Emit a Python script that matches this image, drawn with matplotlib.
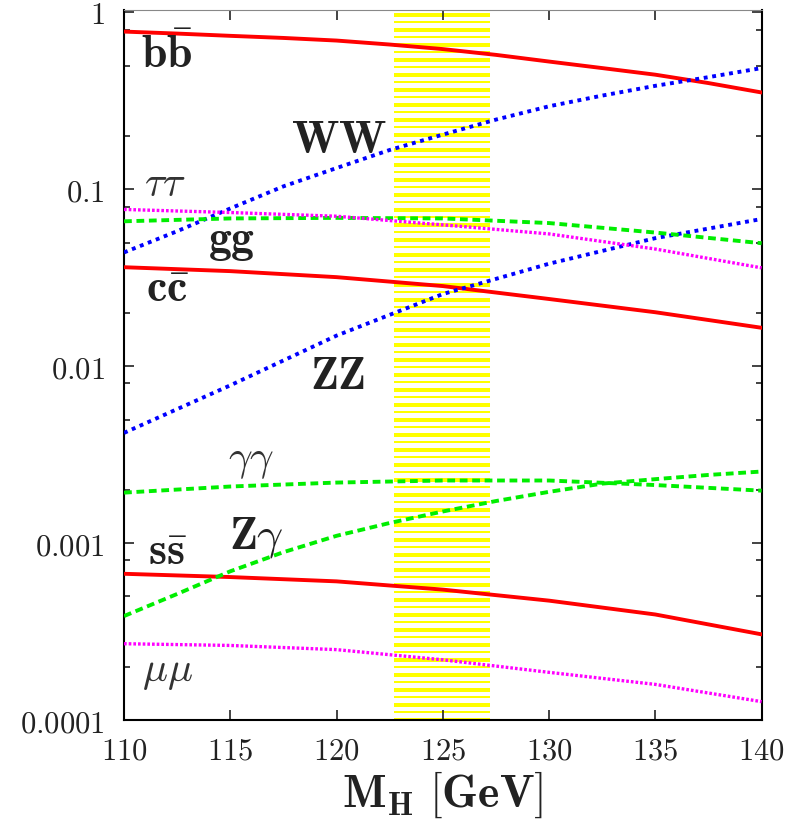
import numpy as np
import matplotlib
matplotlib.use('Agg')
import matplotlib.pyplot as plt
from matplotlib.patches import Rectangle
from matplotlib.ticker import LogLocator, FixedLocator, FixedFormatter, NullFormatter
import matplotlib.transforms as mtransforms

plt.rcParams['mathtext.fontset'] = 'cm'
plt.rcParams['font.family'] = 'serif'

# Higgs mass points [GeV]
mh = [110, 115, 120, 125, 130, 135, 140]
mh_fine = [110, 112.5, 115, 117.5, 120, 122.5, 125, 127.5, 130, 132.5, 135, 137.5, 140]

# branching ratios
br_bb = [0.78, 0.76, 0.738, 0.718, 0.694, 0.659, 0.621, 0.576, 0.528, 0.485, 0.445, 0.399, 0.353]
br_ww = [0.044, 0.058, 0.078, 0.104, 0.132, 0.167, 0.204, 0.248, 0.295, 0.339, 0.385, 0.431, 0.485]
br_zgam = [0.000387, 0.000516, 0.000693, 0.000889, 0.0011, 0.0013, 0.00151, 0.00173,
           0.00195, 0.00217, 0.0023, 0.00243, 0.00254]
br_tautau = [0.077, 0.074, 0.0705, 0.063, 0.056, 0.046, 0.036]
br_gg = [0.066, 0.0685, 0.069, 0.0685, 0.0645, 0.057, 0.0496]
br_cc = [0.0363, 0.0345, 0.0319, 0.0284, 0.024, 0.0202, 0.0165]
br_zz = [0.0042, 0.0078, 0.0149, 0.0256, 0.038, 0.053, 0.068]
br_gamgam = [0.00193, 0.00209, 0.0022, 0.00226, 0.00226, 0.00213, 0.00198]
br_ss = [0.000671, 0.000643, 0.000608, 0.000546, 0.000473, 0.000395, 0.000305]
br_mumu = [0.00027, 0.000264, 0.00025, 0.000219, 0.000186, 0.000159, 0.000127]

band = [122.72, 127.2]  # yellow mass band

fig = plt.figure(figsize=(7.95, 8.21), dpi=100)
ax = fig.add_axes([0.156, 0.123, 0.802, 0.865])

# striped yellow band (stripes in axes fraction)
trans = mtransforms.blended_transform_factory(ax.transData, ax.transAxes)
period = 15.0 / 710
y = 0.9958
while y > 0:
    thick = Rectangle((band[0], y - 4.0 / 710), band[1] - band[0], 4.0 / 710,
                      transform=trans, color='#ffff00', lw=0, zorder=1)
    ax.add_patch(thick)
    y2 = y - 8.0 / 710
    if y2 > 0:
        thin = Rectangle((band[0], y2 - 1.8 / 710), band[1] - band[0], 1.8 / 710,
                         transform=trans, color='#ffff00', lw=0, zorder=1)
        ax.add_patch(thin)
    y -= period

red = dict(color='#ff0000', lw=2.8, ls='-', zorder=3)
blue = dict(color='#0000ff', lw=2.8, ls=(0, (1, 1.2)), zorder=3)
green = dict(color='#00ee00', lw=2.8, ls=(0, (2, 1.2)), zorder=3)
mag = dict(color='#ff00ff', lw=2.4, ls=(0, (0.8, 0.6)), zorder=3)

ax.plot(mh_fine, br_bb, **red)
ax.plot(mh, br_cc, **red)
ax.plot(mh, br_ss, **red)
ax.plot(mh_fine, br_ww, **blue)
ax.plot(mh, br_zz, **blue)
ax.plot(mh, br_gg, **green)
ax.plot(mh, br_gamgam, **green)
ax.plot(mh_fine, br_zgam, **green)
ax.plot(mh, br_tautau, **mag)
ax.plot(mh, br_mumu, **mag)

ax.set_yscale('log')
ax.set_xlim(110, 140)
ax.set_ylim(1e-4, 1.035)

# labels
fs = 33
fi = 30
dark = '#222222'
ax.text(110.8, 0.487, r'$\mathbf{b\bar{b}}$', fontsize=fs, va='baseline', color=dark)
ax.text(117.85, 0.16, r'$\mathbf{WW}$', fontsize=fs, va='baseline', color=dark)
ax.text(110.95, 0.0914, r'$\tau\tau$', fontsize=fi, va='baseline', color='#333333')
ax.text(113.95, 0.0445, r'$\mathbf{gg}$', fontsize=fs, va='baseline', color=dark)
ax.text(111.04, 0.0231, r'$\mathbf{c\bar{c}}$', fontsize=fs, va='baseline', color=dark)
ax.text(118.73, 0.00747, r'$\mathbf{ZZ}$', fontsize=fs, va='baseline', color=dark)
ax.text(114.9, 0.0026, r'$\gamma\gamma$', fontsize=fi, va='baseline', color='#333333')
ax.text(114.95, 0.000937, r'$\mathbf{Z}\gamma$', fontsize=fs, va='baseline', color=dark)
ax.text(111.13, 0.000752, r'$\mathbf{s\bar{s}}$', fontsize=fs, va='baseline', color=dark)
ax.text(110.85, 0.000167, r'$\mu\mu$', fontsize=fi, va='baseline', color='#333333')

# ticks
xt = [110, 115, 120, 125, 130, 135, 140]
ax.xaxis.set_major_locator(FixedLocator(xt))
ax.xaxis.set_major_formatter(FixedFormatter([r'$%d$' % v for v in xt]))
yt = [1e-4, 1e-3, 1e-2, 1e-1, 1]
ax.yaxis.set_major_locator(FixedLocator(yt))
ax.yaxis.set_major_formatter(FixedFormatter([r'$0.0001$', r'$0.001$', r'$0.01$', r'$0.1$', r'$1$']))
ax.yaxis.set_minor_locator(LogLocator(base=10, subs=(2, 5, 8)))
ax.yaxis.set_minor_formatter(NullFormatter())

ax.tick_params(which='both', direction='in', top=True, right=True, labelsize=22, colors='#222222')
ax.tick_params(which='major', length=7, width=1.2)
ax.tick_params(which='minor', length=4, width=1.2)
ax.tick_params(axis='x', pad=11)
ax.tick_params(axis='y', pad=14)

for s in ['left', 'bottom', 'right']:
    ax.spines[s].set_linewidth(1.5)
    ax.spines[s].set_color('black')
ax.spines['top'].set_linewidth(0.8)
ax.spines['top'].set_color('#888888')

ax.set_xlabel(r'$\mathbf{M_H\ [GeV]}$', fontsize=33, labelpad=2, color='#222222')

fig.savefig('out.png', dpi=100)
